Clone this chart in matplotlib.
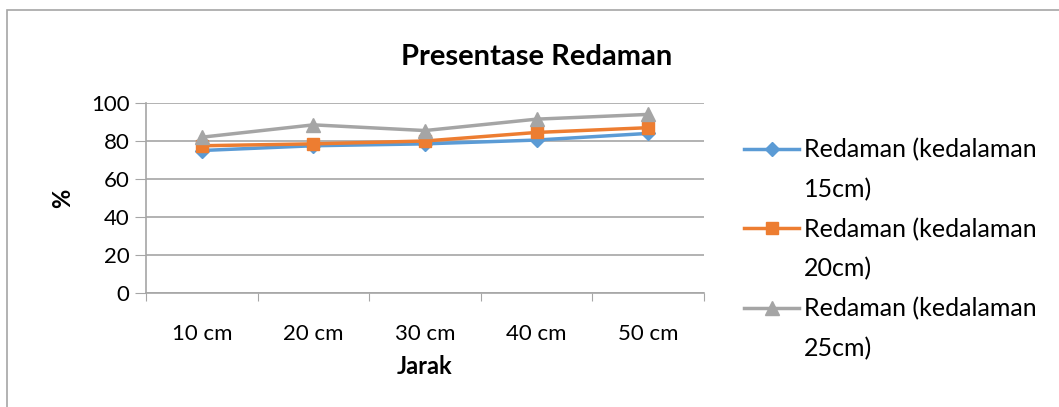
import matplotlib.pyplot as plt
from matplotlib.patches import Rectangle
from matplotlib.lines import Line2D

plt.rcParams['font.family'] = ['Lato', 'DejaVu Sans']

jarak = ['10 cm', '20 cm', '30 cm', '40 cm', '50 cm']
redaman_15 = [75, 77.5, 78.5, 80.5, 84]
redaman_20 = [77.5, 78.5, 80, 84.5, 87]
redaman_25 = [82, 88.5, 85.5, 91.5, 94]
label_top = ['Redaman (kedalaman', 'Redaman (kedalaman', 'Redaman (kedalaman']
label_bottom = ['15cm)', '20cm)', '25cm)']

fig = plt.figure(figsize=(10.59, 4.07), dpi=100)
ax = fig.add_axes([146 / 1059, 1 - 293 / 407, (704 - 146) / 1059, (293 - 103) / 407])

# chart frame
fig.patches.append(Rectangle((7 / 1059, -0.1), 1.2, 1 - 10 / 407 + 0.1, transform=fig.transFigure,
                             fill=False, edgecolor='#a6a6a6', linewidth=1.2))

x = range(len(jarak))
l1, = ax.plot(x, redaman_15, color='#5b9bd5', marker='D', markersize=7, linewidth=2.5)
l2, = ax.plot(x, redaman_20, color='#ed7d31', marker='s', markersize=9, linewidth=2.5)
l3, = ax.plot(x, redaman_25, color='#a5a5a5', marker='^', markersize=10, linewidth=2.5)

ax.set_xlim(-0.5, 4.5)
ax.set_ylim(0, 100)
ax.set_yticks(range(0, 101, 20))
ax.set_xticks([i - 0.5 for i in range(6)], minor=False)
ax.set_xticklabels([])
ax.set_xticks(list(x), minor=True)
ax.set_xticklabels(jarak, minor=True)
ax.tick_params(axis='x', which='minor', length=0, pad=22, labelsize=16)
ax.tick_params(axis='x', which='major', length=6, color='#a6a6a6', direction='out')
ax.tick_params(axis='y', length=8, color='#a6a6a6', labelsize=16, pad=4)
ax.grid(axis='y', color='#a6a6a6', linewidth=1.2)
ax.set_axisbelow(True)
for s in ['top', 'right']:
    ax.spines[s].set_visible(False)
for s in ['left', 'bottom']:
    ax.spines[s].set_color('#a6a6a6')
    ax.spines[s].set_linewidth(1.2)

ax.set_xlabel('Jarak', fontsize=17, fontweight='bold', labelpad=8)
ax.set_ylabel('%', fontsize=17, fontweight='bold', labelpad=12)
fig.text(537 / 1059, 1 - 57 / 407, 'Presentase Redaman', ha='center', va='center',
         fontsize=21, fontweight='bold')

blank = Line2D([], [], linestyle='none')
handles, texts = [], []
for h, a, b in zip([l1, l2, l3], label_top, label_bottom):
    handles += [h, blank]
    texts += [a, b]
fig.legend(handles, texts, loc='upper left', bbox_to_anchor=(744 / 1059, 1 - 138 / 407),
           bbox_transform=fig.transFigure, frameon=False, fontsize=18,
           handlelength=2.2, labelspacing=0.66, handletextpad=0.2,
           borderpad=0, borderaxespad=0)

fig.savefig('out.png', dpi=100)
